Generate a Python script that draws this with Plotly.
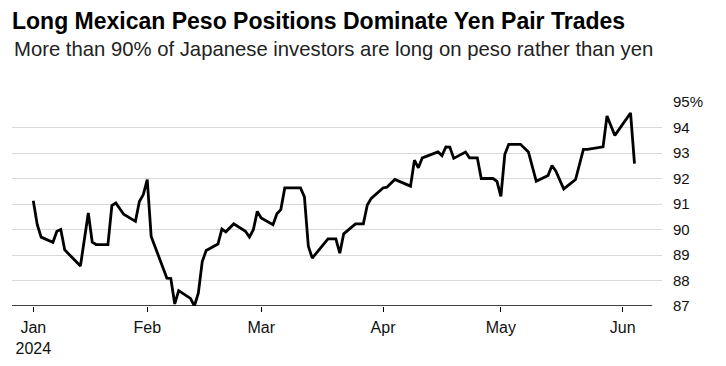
import plotly.graph_objects as go

dates = [
    "2024-01-03", "2024-01-04", "2024-01-05", "2024-01-08", "2024-01-09", "2024-01-10",
    "2024-01-11", "2024-01-15", "2024-01-17", "2024-01-18", "2024-01-19", "2024-01-22",
    "2024-01-23", "2024-01-24", "2024-01-26", "2024-01-29", "2024-01-30", "2024-01-31",
    "2024-02-01", "2024-02-02", "2024-02-06", "2024-02-07", "2024-02-08", "2024-02-09",
    "2024-02-12", "2024-02-13", "2024-02-14", "2024-02-15", "2024-02-16", "2024-02-19",
    "2024-02-20", "2024-02-21", "2024-02-23", "2024-02-26", "2024-02-27", "2024-02-28",
    "2024-02-29", "2024-03-01", "2024-03-04", "2024-03-05", "2024-03-06", "2024-03-07",
    "2024-03-11", "2024-03-12", "2024-03-13", "2024-03-14", "2024-03-18", "2024-03-20",
    "2024-03-21", "2024-03-22", "2024-03-25", "2024-03-27", "2024-03-28", "2024-03-29",
    "2024-04-01", "2024-04-02", "2024-04-04", "2024-04-08", "2024-04-09", "2024-04-10",
    "2024-04-11", "2024-04-15", "2024-04-16", "2024-04-17", "2024-04-18", "2024-04-19",
    "2024-04-22", "2024-04-23", "2024-04-25", "2024-04-26", "2024-04-29", "2024-04-30",
    "2024-05-01", "2024-05-02", "2024-05-03", "2024-05-06", "2024-05-08", "2024-05-10",
    "2024-05-13", "2024-05-14", "2024-05-15", "2024-05-17", "2024-05-20", "2024-05-22",
    "2024-05-23", "2024-05-27", "2024-05-28", "2024-05-30", "2024-06-03", "2024-06-04",
]
long_peso_pct = [
    91.13, 90.20, 89.70, 89.50, 89.93, 90.00,
    89.20, 88.57, 90.65, 89.50, 89.41, 89.41,
    90.94, 91.04, 90.60, 90.32, 91.10, 91.37,
    91.96, 89.73, 88.09, 88.08, 87.08, 87.60,
    87.30, 87.00, 87.50, 88.74, 89.18, 89.43,
    90.02, 89.91, 90.22, 89.93, 89.70, 89.99,
    90.71, 90.45, 90.19, 90.62, 90.78, 91.63,
    91.63, 91.28, 89.34, 88.88, 89.63, 89.63,
    89.07, 89.83, 90.22, 90.22, 90.96, 91.22,
    91.63, 91.66, 91.96, 91.70, 92.72, 92.42,
    92.81, 93.04, 92.90, 93.24, 93.23, 92.79,
    93.04, 92.81, 92.81, 92.00, 92.00, 91.89,
    91.30, 92.95, 93.34, 93.34, 93.04, 91.89,
    92.12, 92.51, 92.29, 91.59, 91.96, 93.14,
    93.14, 93.24, 94.45, 93.69, 94.57, 92.58,
]

x_tickvals = ["2024-01-03", "2024-02-01", "2024-03-01", "2024-04-01", "2024-05-01", "2024-06-01"]
x_ticktext = ["Jan<br>2024", "Feb", "Mar", "Apr", "May", "Jun"]
y_tickvals = [87, 88, 89, 90, 91, 92, 93, 94, 95]
y_ticktext = ["87", "88", "89", "90", "91", "92", "93", "94", "95%"]

FONT = "Liberation Sans, Arial, sans-serif"

fig = go.Figure()
fig.add_trace(go.Scatter(
    x=dates, y=long_peso_pct, mode="lines",
    line=dict(color="#000000", width=2.8),
    hoverinfo="skip", showlegend=False,
))

fig.add_shape(type="line", xref="x", yref="y",
              x0="2023-12-28 14:00", x1="2024-06-08 12:00", y0=87, y1=87,
              line=dict(color="#000000", width=1.3), layer="above")

fig.update_layout(
    width=718, height=358,
    margin=dict(l=4, r=64, t=94, b=60),
    paper_bgcolor="white", plot_bgcolor="white",
    font=dict(family=FONT, color="#000000", size=15),
    title=dict(
        text="<b>Long Mexican Peso Positions Dominate Yen Pair Trades</b>",
        x=0, xref="paper", xanchor="left", y=0.985, yref="container", yanchor="top",
        font=dict(family=FONT, size=23, color="#000000"),
    ),
    annotations=[dict(
        text="More than 90% of Japanese investors are long on peso rather than yen",
        xref="paper", yref="paper", x=0, y=1.0, xanchor="left", yanchor="top",
        yshift=66, xshift=0, showarrow=False,
        font=dict(family=FONT, size=20.3, color="#222222"),
    )],
    xaxis=dict(
        type="date", range=["2023-12-28 14:00", "2024-06-11"],
        tickvals=x_tickvals, ticktext=x_ticktext,
        ticks="outside", ticklen=5, tickwidth=1, tickcolor="#000000",
        showgrid=False, zeroline=False, showline=False, ticklabelstandoff=2,
        tickfont=dict(family=FONT, size=16, color="#111111"),
    ),
    yaxis=dict(
        side="right", range=[87, 95],
        tickvals=y_tickvals, ticktext=y_ticktext,
        showgrid=True, gridcolor="#d9d9d9", gridwidth=1,
        zeroline=False, showline=False, ticks="", ticklabelstandoff=10,
        tickfont=dict(family=FONT, size=15, color="#111111"),
    ),
)

fig.write_html("out.html")
